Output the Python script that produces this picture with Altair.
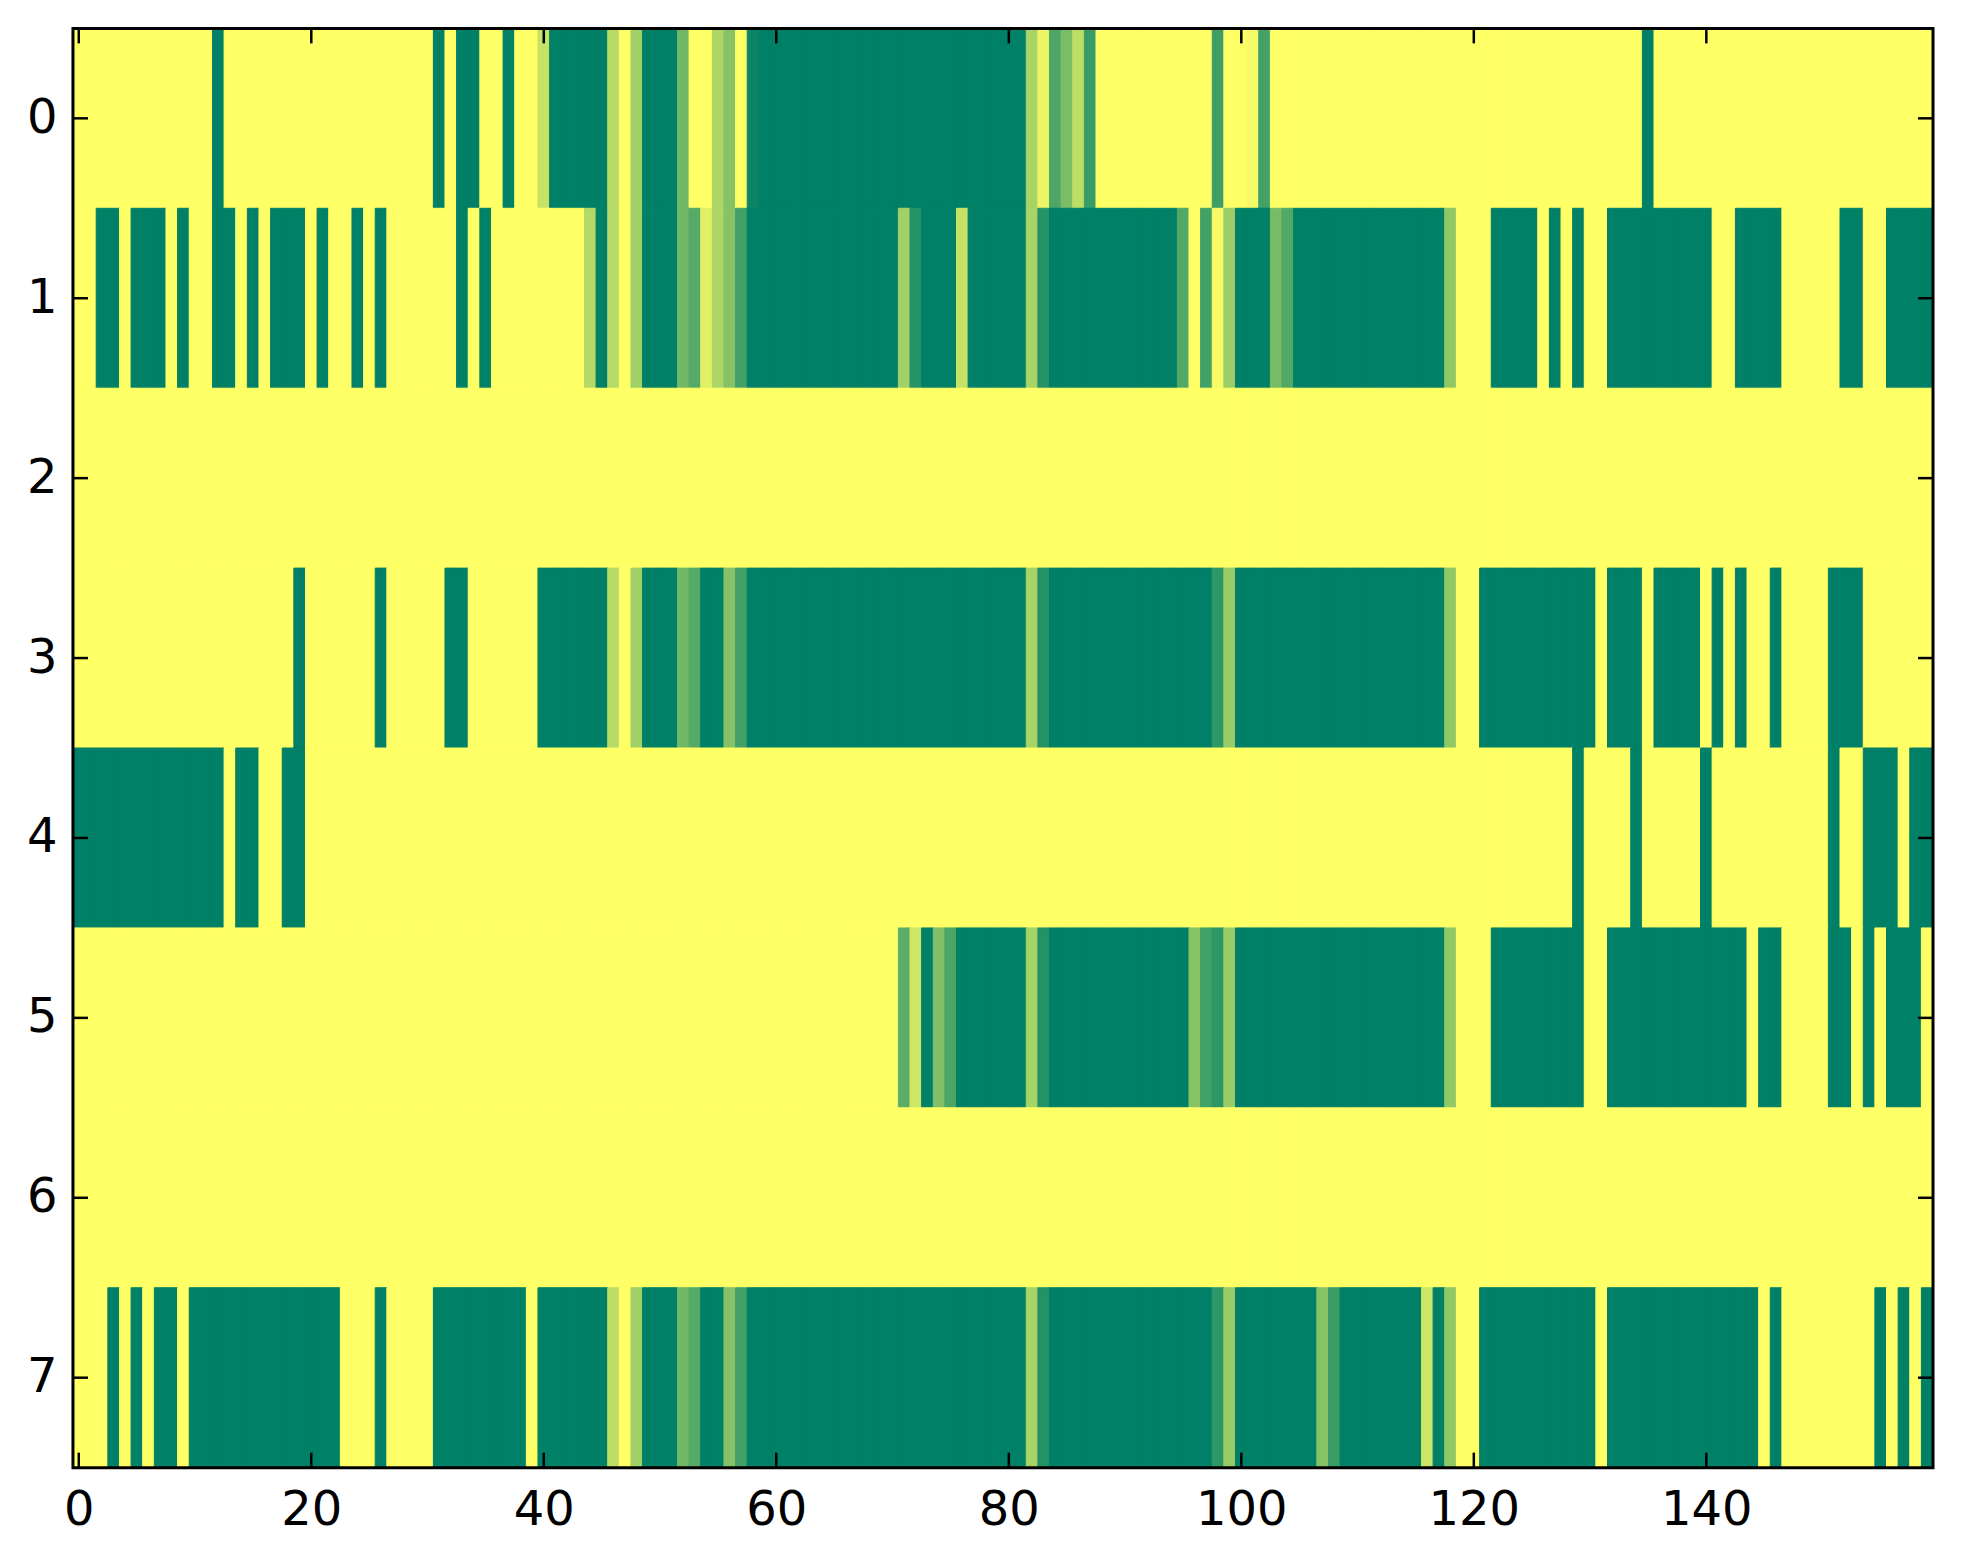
import altair as alt
import pandas as pd

# Tick labels
XTICKS = [0, 20, 40, 60, 80, 100, 120, 140]
YTICKS = [0, 1, 2, 3, 4, 5, 6, 7]

# Heat-map values, one list per row (160 columns each)
ROW0 = [
    1, 1, 1, 1, 1, 1, 1, 1, 1, 1,
    1, 1, 0, 1, 1, 1, 1, 1, 1, 1,
    1, 1, 1, 1, 1, 1, 1, 1, 1, 1,
    1, 0, 1, 0, 0, 1, 1, 0, 1, 1,
    .78, 0, 0, 0, 0, 0, .72, 1, .63, 0,
    0, 0, .44, 1, 1, .68, .53, 1, .04, 0,
    0, 0, 0, 0, 0, 0, 0, 0, 0, 0,
    0, 0, 0, 0, 0, 0, 0, 0, 0, 0,
    0, 0, .66, .92, .30, .48, .74, .22, 1, 1,
    1, 1, 1, 1, 1, 1, 1, 1, .24, 1,
    1, .96, .26, 1, 1, 1, 1, 1, 1, 1,
    1, 1, 1, 1, 1, 1, 1, 1, 1, 1,
    1, 1, 1, 1, 1, 1, 1, 1, 1, 1,
    1, 1, 1, 1, 1, 0, 1, 1, 1, 1,
    1, 1, 1, 1, 1, 1, 1, 1, 1, 1,
    1, 1, 1, 1, 1, 1, 1, 1, 1, 1,
]
ROW1 = [
    1, 1, 0, 0, 1, 0, 0, 0, 1, 0,
    1, 1, 0, 0, 1, 0, 1, 0, 0, 0,
    1, 0, 1, 1, 0, 1, 0, 1, 1, 1,
    1, 1, 1, 0, 1, 0, 1, 1, 1, 1,
    1, 1, 1, 1, .70, 0, .71, 1, .63, 0,
    0, 0, .44, .33, .88, .68, .53, .26, 0, 0,
    0, 0, 0, 0, 0, 0, 0, 0, 0, 0,
    0, .63, .15, 0, 0, 0, .78, 0, 0, 0,
    0, 0, .66, .15, 0, 0, 0, 0, 0, 0,
    0, 0, 0, 0, 0, .32, 1, .26, .96, .61,
    0, 0, 0, .47, .32, 0, 0, 0, 0, 0,
    0, 0, 0, 0, 0, 0, 0, 0, .57, 1,
    1, 1, 0, 0, 0, 0, 1, 0, 1, 0,
    1, 1, 0, 0, 0, 0, 0, 0, 0, 0,
    0, 1, 1, 0, 0, 0, 0, 1, 1, 1,
    1, 1, 0, 0, 1, 1, 0, 0, 0, 0,
]
ROW2 = [
    1, 1, 1, 1, 1, 1, 1, 1, 1, 1,
    1, 1, 1, 1, 1, 1, 1, 1, 1, 1,
    1, 1, 1, 1, 1, 1, 1, 1, 1, 1,
    1, 1, 1, 1, 1, 1, 1, 1, 1, 1,
    1, 1, 1, 1, 1, 1, 1, 1, 1, 1,
    1, 1, 1, 1, 1, 1, 1, 1, 1, 1,
    1, 1, 1, 1, 1, 1, 1, 1, 1, 1,
    1, 1, 1, 1, 1, 1, 1, 1, 1, 1,
    1, 1, 1, 1, 1, 1, 1, 1, 1, 1,
    1, 1, 1, 1, 1, 1, 1, 1, 1, 1,
    1, 1, 1, 1, 1, 1, 1, 1, 1, 1,
    1, 1, 1, 1, 1, 1, 1, 1, 1, 1,
    1, 1, 1, 1, 1, 1, 1, 1, 1, 1,
    1, 1, 1, 1, 1, 1, 1, 1, 1, 1,
    1, 1, 1, 1, 1, 1, 1, 1, 1, 1,
    1, 1, 1, 1, 1, 1, 1, 1, 1, 1,
]
ROW3 = [
    1, 1, 1, 1, 1, 1, 1, 1, 1, 1,
    1, 1, 1, 1, 1, 1, 1, 1, 1, 0,
    1, 1, 1, 1, 1, 1, 0, 1, 1, 1,
    1, 1, 0, 0, 1, 1, 1, 1, 1, 1,
    0, 0, 0, 0, 0, 0, .72, 1, .63, 0,
    0, 0, .44, .33, 0, 0, .53, .26, 0, 0,
    0, 0, 0, 0, 0, 0, 0, 0, 0, 0,
    0, 0, 0, 0, 0, 0, 0, 0, 0, 0,
    0, 0, .66, .15, 0, 0, 0, 0, 0, 0,
    0, 0, 0, 0, 0, 0, 0, 0, .18, .60,
    0, 0, 0, 0, 0, 0, 0, 0, 0, 0,
    0, 0, 0, 0, 0, 0, 0, 0, .57, 1,
    1, 0, 0, 0, 0, 0, 0, 0, 0, 0,
    0, 1, 0, 0, 0, 1, 0, 0, 0, 0,
    1, 0, 1, 0, 1, 1, 0, 1, 1, 1,
    1, 0, 0, 0, 1, 1, 1, 1, 1, 1,
]
ROW4 = [
    0, 0, 0, 0, 0, 0, 0, 0, 0, 0,
    0, 0, 0, 1, 0, 0, 1, 1, 0, 0,
    1, 1, 1, 1, 1, 1, 1, 1, 1, 1,
    1, 1, 1, 1, 1, 1, 1, 1, 1, 1,
    1, 1, 1, 1, 1, 1, 1, 1, 1, 1,
    1, 1, 1, 1, 1, 1, 1, 1, 1, 1,
    1, 1, 1, 1, 1, 1, 1, 1, 1, 1,
    1, 1, 1, 1, 1, 1, 1, 1, 1, 1,
    1, 1, 1, 1, 1, 1, 1, 1, 1, 1,
    1, 1, 1, 1, 1, 1, 1, 1, 1, 1,
    1, 1, 1, 1, 1, 1, 1, 1, 1, 1,
    1, 1, 1, 1, 1, 1, 1, 1, 1, 1,
    1, 1, 1, 1, 1, 1, 1, 1, 1, 0,
    1, 1, 1, 1, 0, 1, 1, 1, 1, 1,
    0, 1, 1, 1, 1, 1, 1, 1, 1, 1,
    1, 0, 1, 1, 0, 0, 0, 1, 0, 0,
]
ROW5 = [
    1, 1, 1, 1, 1, 1, 1, 1, 1, 1,
    1, 1, 1, 1, 1, 1, 1, 1, 1, 1,
    1, 1, 1, 1, 1, 1, 1, 1, 1, 1,
    1, 1, 1, 1, 1, 1, 1, 1, 1, 1,
    1, 1, 1, 1, 1, 1, 1, 1, 1, 1,
    1, 1, 1, 1, 1, 1, 1, 1, 1, 1,
    1, 1, 1, 1, 1, 1, 1, 1, 1, 1,
    1, .36, .80, 0, .50, .30, 0, 0, 0, 0,
    0, 0, .65, .14, 0, 0, 0, 0, 0, 0,
    0, 0, 0, 0, 0, 0, .53, .26, .18, .60,
    0, 0, 0, 0, 0, 0, 0, 0, 0, 0,
    0, 0, 0, 0, 0, 0, 0, 0, .57, 1,
    1, 1, 0, 0, 0, 0, 0, 0, 0, 0,
    1, 1, 0, 0, 0, 0, 0, 0, 0, 0,
    0, 0, 0, 0, 1, 0, 0, 1, 1, 1,
    1, 0, 0, 1, 0, 1, 0, 0, 0, 1,
]
ROW6 = [
    1, 1, 1, 1, 1, 1, 1, 1, 1, 1,
    1, 1, 1, 1, 1, 1, 1, 1, 1, 1,
    1, 1, 1, 1, 1, 1, 1, 1, 1, 1,
    1, 1, 1, 1, 1, 1, 1, 1, 1, 1,
    1, 1, 1, 1, 1, 1, 1, 1, 1, 1,
    1, 1, 1, 1, 1, 1, 1, 1, 1, 1,
    1, 1, 1, 1, 1, 1, 1, 1, 1, 1,
    1, 1, 1, 1, 1, 1, 1, 1, 1, 1,
    1, 1, 1, 1, 1, 1, 1, 1, 1, 1,
    1, 1, 1, 1, 1, 1, 1, 1, 1, 1,
    1, 1, 1, 1, 1, 1, 1, 1, 1, 1,
    1, 1, 1, 1, 1, 1, 1, 1, 1, 1,
    1, 1, 1, 1, 1, 1, 1, 1, 1, 1,
    1, 1, 1, 1, 1, 1, 1, 1, 1, 1,
    1, 1, 1, 1, 1, 1, 1, 1, 1, 1,
    1, 1, 1, 1, 1, 1, 1, 1, 1, 1,
]
ROW7 = [
    1, 1, 1, 0, 1, 0, 1, 0, 0, 1,
    0, 0, 0, 0, 0, 0, 0, 0, 0, 0,
    0, 0, 0, 1, 1, 1, 0, 1, 1, 1,
    1, 0, 0, 0, 0, 0, 0, 0, 0, 1,
    0, 0, 0, 0, 0, 0, .74, 1, .63, 0,
    0, 0, .44, .33, 0, 0, .53, .26, 0, 0,
    0, 0, 0, 0, 0, 0, 0, 0, 0, 0,
    0, 0, 0, 0, 0, 0, 0, 0, 0, 0,
    0, 0, .66, .14, 0, 0, 0, 0, 0, 0,
    0, 0, 0, 0, 0, 0, 0, 0, .18, .60,
    0, 0, 0, 0, 0, 0, 0, .53, .23, 0,
    0, 0, 0, 0, 0, 0, .80, 0, .57, 1,
    1, 0, 0, 0, 0, 0, 0, 0, 0, 0,
    0, 1, 0, 0, 0, 0, 0, 0, 0, 0,
    0, 0, 0, 0, 0, 1, 0, 1, 1, 1,
    1, 1, 1, 1, 1, 0, 1, 0, 1, 0,
]

ROWS = [ROW0, ROW1, ROW2, ROW3, ROW4, ROW5, ROW6, ROW7]

records = []
for r, vals in enumerate(ROWS):
    for c, v in enumerate(vals):
        records.append({"col": c, "row": r, "value": v})
df = pd.DataFrame(records)

W, H = 1861, 1440
FONT = "DejaVu Sans"
TICK_LEN = 15
TICK_W = 2.5

xscale = alt.Scale(domain=[-0.5, 159.5], nice=False, zero=False)
yscale = alt.Scale(domain=[-0.5, 7.5], nice=False, zero=False, reverse=True)

AX_X = alt.Axis(
    values=XTICKS, title="", ticks=False, domain=False, grid=False,
    labelFontSize=48, labelFont=FONT, labelColor="black",
    labelPadding=19, labelFlush=False, format="d",
)
AX_Y = alt.Axis(
    values=YTICKS, title="", ticks=False, domain=False, grid=False,
    labelFontSize=48, labelFont=FONT, labelColor="black",
    labelPadding=16, labelFlush=False, format="d",
)

cscale = alt.Scale(domain=[0, 1], range=["#008066", "#ffff66"], interpolate="rgb")

heat = (
    alt.Chart(df)
    .transform_calculate(
        x0="datum.col - 0.5",
        x1="datum.col + 0.5",
        y0="datum.row - 0.5",
        y1="datum.row + 0.5",
    )
    .mark_rect(strokeWidth=1)
    .encode(
        x=alt.X("x0:Q", scale=xscale, axis=AX_X),
        x2="x1:Q",
        y=alt.Y("y0:Q", scale=yscale, axis=AX_Y),
        y2="y1:Q",
        color=alt.Color("value:Q", scale=cscale, legend=None),
        stroke=alt.Stroke("value:Q", scale=cscale, legend=None),
    )
)

xt = pd.DataFrame({"t": XTICKS})
yt = pd.DataFrame({"t": YTICKS})

top_ticks = alt.Chart(xt).mark_rule(color="black", strokeWidth=TICK_W).encode(
    x=alt.X("t:Q", scale=xscale, axis=AX_X), y=alt.value(0), y2=alt.value(TICK_LEN)
)
bottom_ticks = alt.Chart(xt).mark_rule(color="black", strokeWidth=TICK_W).encode(
    x=alt.X("t:Q", scale=xscale, axis=AX_X), y=alt.value(H), y2=alt.value(H - TICK_LEN)
)
left_ticks = alt.Chart(yt).mark_rule(color="black", strokeWidth=TICK_W).encode(
    y=alt.Y("t:Q", scale=yscale, axis=AX_Y), x=alt.value(0), x2=alt.value(TICK_LEN)
)
right_ticks = alt.Chart(yt).mark_rule(color="black", strokeWidth=TICK_W).encode(
    y=alt.Y("t:Q", scale=yscale, axis=AX_Y), x=alt.value(W), x2=alt.value(W - TICK_LEN)
)

frame = alt.Chart(pd.DataFrame({"k": [0]})).mark_rect(
    fillOpacity=0, stroke="black", strokeWidth=3
).encode(
    x=alt.value(0), x2=alt.value(W), y=alt.value(0), y2=alt.value(H)
)

chart = (
    alt.layer(heat, top_ticks, bottom_ticks, left_ticks, right_ticks, frame)
    .properties(
        width=W,
        height=H,
        autosize=alt.AutoSizeParams(type="none"),
        padding={"left": 65, "top": 20, "right": 22, "bottom": 90},
        background="white",
    )
    .configure_view(stroke=None)
)

chart.save("out.html", embed_options={"renderer": "svg", "actions": False})
